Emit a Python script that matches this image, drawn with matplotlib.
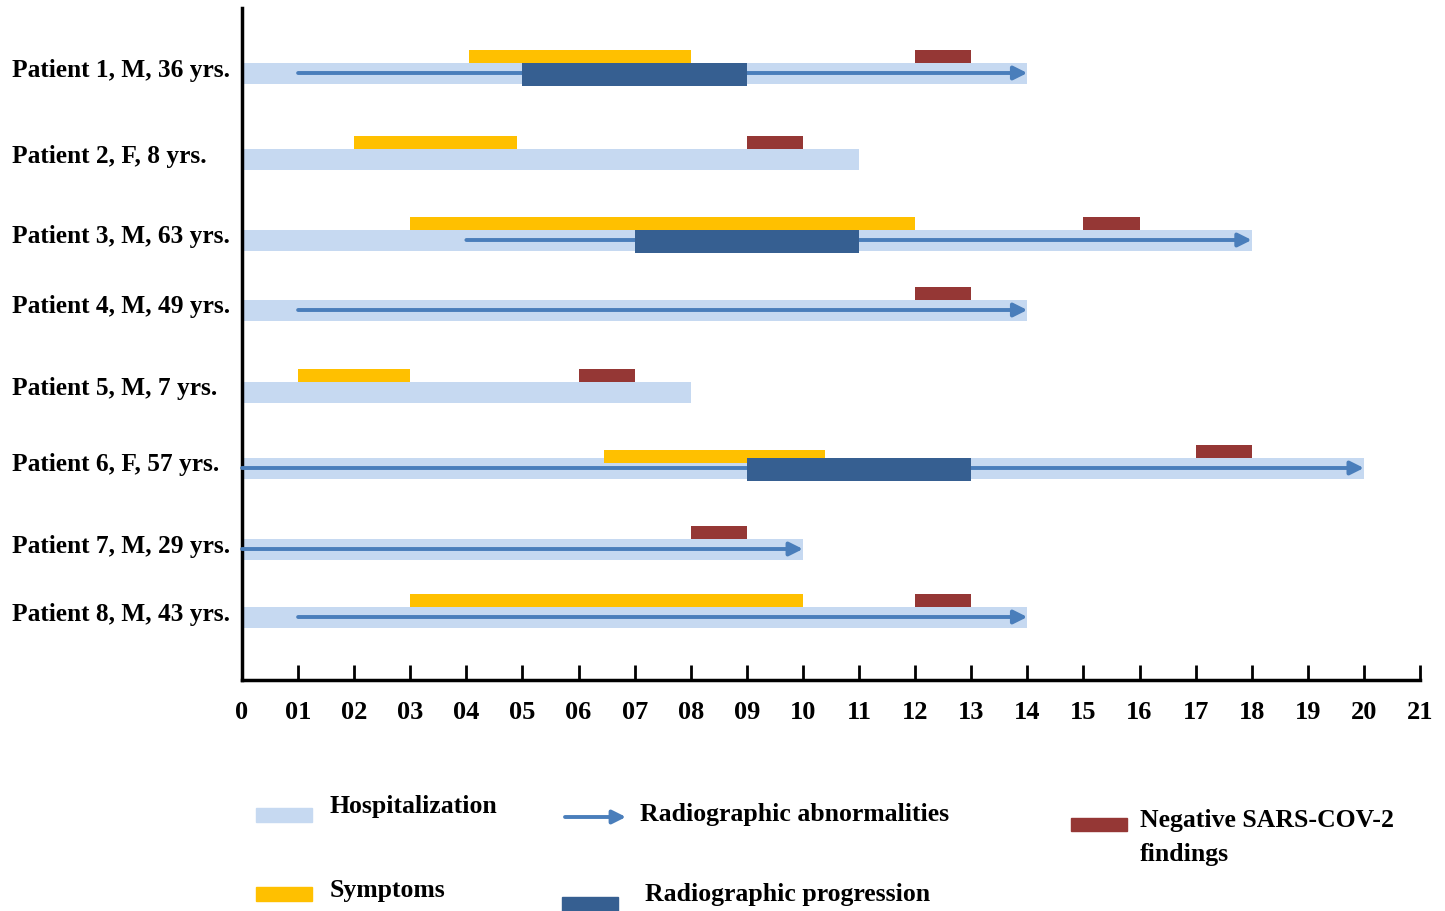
import matplotlib
matplotlib.use('Agg')
import matplotlib.pyplot as plt
from matplotlib.patches import Rectangle

plt.rcParams['font.family'] = 'Liberation Serif'
plt.rcParams['font.weight'] = 'bold'

# Data (days)
patients = ['Patient 1, M, 36 yrs.', 'Patient 2, F, 8 yrs.', 'Patient 3, M, 63 yrs.',
            'Patient 4, M, 49 yrs.', 'Patient 5, M, 7 yrs.', 'Patient 6, F, 57 yrs.',
            'Patient 7, M, 29 yrs.', 'Patient 8, M, 43 yrs.']
hosp_end = [14, 11, 18, 14, 8, 20, 10, 14]
symptoms = [(4.05, 8), (2, 4.9), (3, 12), None, (1, 3), (6.45, 10.4), None, (3, 10)]
abnormal = [(1, 14), None, (4, 18), (1, 14), None, (0, 20), (0, 10), (1, 14)]
progression = [(5, 9), None, (7, 11), None, None, (9, 13), None, None]
negative = [(12, 13), (9, 10), (15, 16), (12, 13), (6, 7), (17, 18), (8, 9), (12, 13)]
tick_labels = ['0'] + ['%02d' % d for d in range(1, 22)]

# row centres in pixel units (y axis runs in pixels, top = 0)
rows = [73, 159, 240, 310, 392, 468, 549, 617]

c_hosp = '#c6d9f1'
c_sym = '#ffc000'
c_arrow = '#4a7ebb'
c_prog = '#365f91'
c_neg = '#953735'

W, H = 1445, 911
fig = plt.figure(figsize=(W / 100, H / 100), dpi=100)
ax = fig.add_axes([242 / W, 1 - 680 / H, (1420 - 242) / W, (680 - 8) / H])
ax.set_xlim(0, 21)
ax.set_ylim(680, 8)

for i, y in enumerate(rows):
    ax.barh(y, hosp_end[i], left=0, height=21, color=c_hosp, zorder=1)
    top = y - 10.5
    if symptoms[i]:
        s, e = symptoms[i]
        off = 5 if i == 5 else 0
        ax.barh(top - 6.5 + off, e - s, left=s, height=13, color=c_sym, zorder=2)
    if abnormal[i]:
        s, e = abnormal[i]
        ax.annotate('', xy=(e, y), xytext=(s, y),
                    arrowprops=dict(arrowstyle='-|>', color=c_arrow, lw=2.8,
                                    mutation_scale=20, shrinkA=0, shrinkB=0),
                    zorder=3)
    if progression[i]:
        s, e = progression[i]
        ax.barh(y + 1.5, e - s, left=s, height=23, color=c_prog, zorder=4)
    s, e = negative[i]
    ax.barh(top - 6.5, e - s, left=s, height=13, color=c_neg, zorder=2)
    ax.text(-230 / 56.1, y - 3, patients[i], ha='left', va='center',
            fontsize=18.3, fontweight='bold')

ax.set_yticks([])
ax.set_xticks(range(22))
ax.set_xticklabels(tick_labels)
ax.tick_params(axis='x', direction='in', length=11, width=2, pad=15, labelsize=19)
for lab in ax.get_xticklabels():
    lab.set_fontweight('bold')
for sp in ['top', 'right']:
    ax.spines[sp].set_visible(False)
ax.spines['left'].set_linewidth(2.5)
ax.spines['bottom'].set_linewidth(2.5)

# legend drawn in pixel space
lg = fig.add_axes([0, 0, 1, 1])
lg.set_xlim(0, W)
lg.set_ylim(H, 0)
lg.axis('off')
fs = 18.5
lg.add_patch(Rectangle((256, 808), 56, 14, color=c_hosp))
lg.text(330, 806, 'Hospitalization', va='center', fontsize=fs, fontweight='bold')
lg.annotate('', xy=(626, 817), xytext=(565, 817),
            arrowprops=dict(arrowstyle='-|>', color=c_arrow, lw=2.8,
                            mutation_scale=20, shrinkA=0, shrinkB=0))
lg.text(640, 814, 'Radiographic abnormalities', va='center', fontsize=fs, fontweight='bold')
lg.add_patch(Rectangle((1071, 818), 56, 13, color=c_neg))
lg.text(1140, 820, 'Negative SARS-COV-2', va='center', fontsize=fs, fontweight='bold')
lg.text(1140, 855, 'findings', va='center', fontsize=fs, fontweight='bold')
lg.add_patch(Rectangle((256, 887), 56, 14, color=c_sym))
lg.text(330, 890, 'Symptoms', va='center', fontsize=fs, fontweight='bold')
lg.add_patch(Rectangle((562, 897), 56, 14, color=c_prog))
lg.text(645, 895, 'Radiographic progression', va='center', fontsize=fs, fontweight='bold')

fig.savefig('out.png', dpi=100)
